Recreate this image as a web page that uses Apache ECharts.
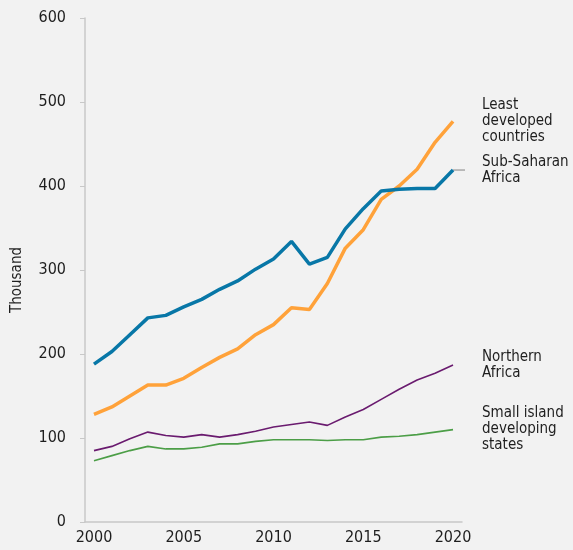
<!DOCTYPE html>
<html>
<head>
<meta charset="utf-8">
<script src="https://cdn.jsdelivr.net/npm/echarts@6/dist/echarts.min.js"></script>
<style>
html,body{margin:0;padding:0;background:#f2f2f2;}
#c{width:573px;height:550px;}
</style>
</head>
<body>
<div id="c"></div>
<script>
var years = ['2000','2001','2002','2003','2004','2005','2006','2007','2008','2009','2010','2011','2012','2013','2014','2015','2016','2017','2018','2019','2020'];
var leastDeveloped = [128,137,150,163,163,171,184,196,206,223,235,255,253,284,326,348,384,400,420,452,477];
var subSaharan = [188,203,223,243,246,256,265,277,287,301,313,334,307,315,349,373,394,396,397,397,419];
var northernAfrica = [85,90,99,107,103,101,104,101,104,108,113,116,119,115,125,134,146,158,169,177,187];
var smallIsland = [73,79,85,90,87,87,89,93,93,96,98,98,98,97,98,98,101,102,104,107,110];
var yTicks = [0,100,200,300,400,500,600];

var FONT = '"Liberation Sans Narrow","DejaVu Sans Condensed","Roboto",sans-serif';
var TXT = '#1e1e1e';
var chart = echarts.init(document.getElementById('c'));

function lineSeries(name, label, data, color, width) {
  return {
    name: name, type: 'line', data: data, symbol: 'none', smooth: false,
    lineStyle: {color: color, width: width},
    itemStyle: {color: color},
    endLabel: {
      show: true, formatter: label, distance: 29, color: TXT,
      fontFamily: FONT, fontSize: 15, lineHeight: 16, align: 'left'
    },
    animation: false
  };
}

chart.setOption({
  backgroundColor: '#f2f2f2',
  animation: false,
  grid: {left: 85, right: 111, top: 18, bottom: 28},
  xAxis: {
    type: 'category', data: years, boundaryGap: true,
    axisLine: {lineStyle: {color: '#c8c8c8', width: 1.5}},
    axisTick: {show: false},
    axisLabel: {interval: 4, color: TXT, fontFamily: FONT, fontSize: 16, margin: 8},
    splitLine: {show: false}
  },
  yAxis: {
    type: 'value', min: 0, max: 600, interval: 100,
    name: 'Thousand', nameLocation: 'middle', nameGap: 60, nameRotate: 90,
    nameTextStyle: {color: TXT, fontFamily: FONT, fontSize: 15, padding: [0,0,0,-20]},
    axisLine: {show: true, lineStyle: {color: '#c8c8c8', width: 1.5}},
    axisTick: {show: true, length: 5, lineStyle: {color: '#c8c8c8'}},
    axisLabel: {color: TXT, fontFamily: FONT, fontSize: 16, margin: 19,
      formatter: function(v){ return yTicks.indexOf(v) >= 0 ? String(v) : ''; }},
    splitLine: {show: false}
  },
  series: [
    lineSeries('Small island developing states', 'Small island\ndeveloping\nstates', smallIsland, '#4c9e47', 1.6),
    lineSeries('Northern Africa', 'Northern\nAfrica', northernAfrica, '#6a1b6f', 1.6),
    lineSeries('Least developed countries', 'Least\ndeveloped\ncountries', leastDeveloped, '#ffa23a', 3.5),
    lineSeries('Sub-Saharan Africa', 'Sub-Saharan\nAfrica', subSaharan, '#0877a7', 3.5)
  ]
});

var p = chart.convertToPixel({xAxisIndex: 0, yAxisIndex: 0}, [years[years.length-1], subSaharan[subSaharan.length-1]]);
chart.setOption({
  graphic: [{
    type: 'line', shape: {x1: p[0], y1: p[1], x2: p[0] + 12, y2: p[1]},
    style: {stroke: '#a8a8a8', lineWidth: 1.5}, z: 1
  }]
});
</script>
</body>
</html>
